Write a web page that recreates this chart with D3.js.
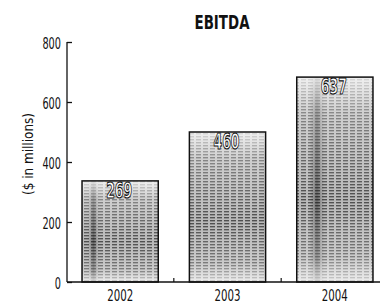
<!DOCTYPE html>
<html><head><meta charset="utf-8">
<script src="https://cdn.jsdelivr.net/npm/d3@7"></script>
<style>
html,body{margin:0;padding:0;background:#fff;}
text{font-family:"DejaVu Sans",sans-serif;}
</style></head>
<body>
<svg id="c" width="380" height="307"></svg>
<script>
const categories = ["2002", "2003", "2004"];
const barValues = [337, 500, 683];      // bar heights as drawn against the axis
const valueLabels = ["269", "460", "637"]; // printed labels
const yTicks = [0, 200, 400, 600, 800];
const title = "EBITDA";
const yTitle = "($ in millions)";

const svg = d3.select("#c");
const x = d3.scaleBand().domain(categories).range([67, 388]).paddingInner(0.29).paddingOuter(0.14);
const y = d3.scaleLinear().domain([0, 800]).range([282, 42]);

const defs = svg.append("defs");
const pat = defs.append("pattern").attr("id","tex").attr("patternUnits","userSpaceOnUse")
  .attr("width",7).attr("height",3);
pat.append("rect").attr("width",7).attr("height",3).attr("fill","#b5b5b5");
pat.append("rect").attr("y",1).attr("width",5).attr("height",1.4).attr("fill","#2a2a2a").attr("opacity",0.8);
const fade = defs.append("linearGradient").attr("id","fade").attr("x1",0).attr("y1",0).attr("x2",0).attr("y2",1);
fade.append("stop").attr("offset","0%").attr("stop-color","#fff").attr("stop-opacity",0.8);
fade.append("stop").attr("offset","18%").attr("stop-color","#fff").attr("stop-opacity",0.35);
fade.append("stop").attr("offset","60%").attr("stop-color","#fff").attr("stop-opacity",0.05);
fade.append("stop").attr("offset","88%").attr("stop-color","#fff").attr("stop-opacity",0.3);
fade.append("stop").attr("offset","100%").attr("stop-color","#fff").attr("stop-opacity",0.75);
const bandPos = [[0.08,0.22],[0.0,0.0],[0.17,0.36]];
bandPos.forEach((b,i)=>{
  const g = defs.append("linearGradient").attr("id","band"+i).attr("x1",0).attr("y1",0).attr("x2",1).attr("y2",0);
  g.append("stop").attr("offset",b[0]).attr("stop-color","#000").attr("stop-opacity",0);
  g.append("stop").attr("offset",(b[0]+b[1])/2).attr("stop-color","#000").attr("stop-opacity",b[1]>0?0.45:0);
  g.append("stop").attr("offset",b[1]).attr("stop-color","#000").attr("stop-opacity",0);
});

const bars = svg.append("g").selectAll("g").data(categories).join("g");
bars.append("rect")
  .attr("x", d => x(d)).attr("width", x.bandwidth())
  .attr("y", (d,i) => y(barValues[i])).attr("height", (d,i) => y(0) - y(barValues[i]))
  .attr("fill","url(#tex)");
bars.append("rect")
  .attr("x", d => x(d)).attr("width", x.bandwidth())
  .attr("y", (d,i) => y(barValues[i])).attr("height", (d,i) => y(0) - y(barValues[i]))
  .attr("fill",(d,i)=>"url(#band"+i+")");
bars.append("rect")
  .attr("x", d => x(d)).attr("width", x.bandwidth())
  .attr("y", (d,i) => y(barValues[i])).attr("height", (d,i) => y(0) - y(barValues[i]))
  .attr("fill","url(#fade)").attr("stroke","#111").attr("stroke-width",1.5);

bars.append("text")
  .attr("x", d => x(d) + x.bandwidth()/2 - 1)
  .attr("y", (d,i) => y(barValues[i]) + 17)
  .attr("text-anchor","middle").attr("font-size",22).attr("font-weight","bold")
  .attr("textLength",26).attr("lengthAdjust","spacingAndGlyphs")
  .attr("fill","#fff").attr("stroke","#111").attr("stroke-width",1.2)
  .text((d,i) => valueLabels[i]);

// y axis
const yAxis = d3.axisRight(y).tickValues(yTicks).tickSize(5).tickFormat("");
const gy = svg.append("g").attr("transform","translate(67,0)").call(yAxis);
gy.select(".domain").attr("stroke","#111").attr("stroke-width",1.3).attr("d","M0,"+y(800)+"V"+y(0));
gy.selectAll(".tick line").attr("stroke","#111").attr("stroke-width",1.3);
svg.append("g").selectAll("text").data(yTicks).join("text")
  .attr("x",61).attr("y",d=>y(d)+7).attr("text-anchor","end").attr("font-size",15)
  .attr("textLength",d=>String(d).length*6.2).attr("lengthAdjust","spacingAndGlyphs")
  .attr("fill","#111").text(d=>d);

// x axis
const xAxis = d3.axisBottom(x).tickSize(0).tickPadding(8);
const gx = svg.append("g").attr("transform","translate(0,"+y(0)+")").call(xAxis);
gx.select(".domain").attr("stroke","#111").attr("stroke-width",1.3).attr("d","M67,0H380");
gx.selectAll(".tick text").attr("font-size",16).attr("fill","#111")
  .attr("font-family",'"DejaVu Sans",sans-serif')
  .attr("textLength",26).attr("lengthAdjust","spacingAndGlyphs");
// small separator ticks between bars
const seps = categories.slice(1).map(c => x(c) - x.step()*x.paddingInner()/2);
svg.append("g").selectAll("line").data(seps).join("line")
  .attr("x1",d=>d).attr("x2",d=>d).attr("y1",y(0)).attr("y2",y(0)-4)
  .attr("stroke","#111").attr("stroke-width",1.2);

svg.append("text").attr("x",222).attr("y",29).attr("text-anchor","middle")
  .attr("font-size",19).attr("font-weight","bold").attr("fill","#111")
  .attr("textLength",55).attr("lengthAdjust","spacingAndGlyphs").text(title);
svg.append("text").attr("transform","translate(33,154) rotate(-90)").attr("text-anchor","middle")
  .attr("font-size",14).attr("fill","#111")
  .attr("textLength",82).attr("lengthAdjust","spacingAndGlyphs").text(yTitle);
</script>
</body></html>
